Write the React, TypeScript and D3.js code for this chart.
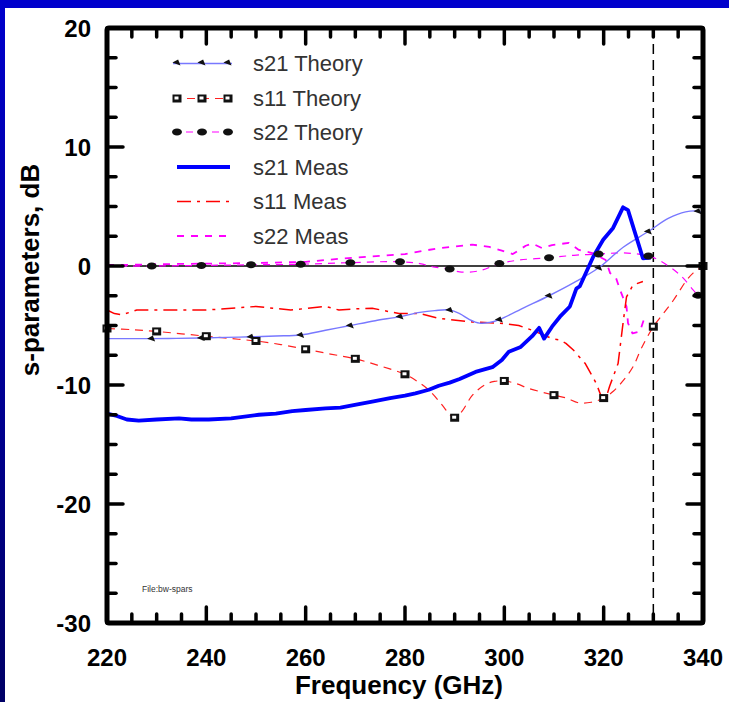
import React, { useEffect, useRef } from 'react';
import * as d3 from 'd3';

// frequency (GHz) / dB pairs
const s21TheoryF = [220, 225, 229, 234, 239, 244, 249, 254, 259, 264, 269, 274, 279, 283, 286, 289, 291, 293, 295, 297, 299, 304, 309, 314, 319, 324, 329, 333, 336.5, 339, 340];
const s21TheoryDb = [-6.1, -6.1, -6.1, -6.08, -6.05, -6.0, -5.95, -5.88, -5.8, -5.4, -5.0, -4.6, -4.25, -3.9, -3.75, -3.7, -4.0, -4.5, -4.8, -4.75, -4.5, -3.5, -2.5, -1.4, -0.15, 1.6, 2.9, 4.0, 4.55, 4.6, 4.4];

const s11TheoryF = [220, 225, 230, 235, 240, 245, 250, 255, 260, 265, 270, 275, 280, 282.5, 285, 287.5, 289, 290, 291.5, 293.5, 296, 298, 300, 302.5, 305, 310, 312.5, 315, 317.5, 320, 322, 324, 326, 327.5, 330, 332, 334, 336.7, 338, 340];
const s11TheoryDb = [-5.25, -5.35, -5.5, -5.7, -5.9, -6.1, -6.3, -6.6, -7.0, -7.4, -7.8, -8.4, -9.1, -9.7, -10.5, -11.7, -12.5, -12.75, -12.2, -10.9, -10.0, -9.7, -9.66, -9.9, -10.3, -10.85, -11.1, -11.5, -11.45, -11.1, -10.5, -9.6, -8.4, -7.0, -5.1, -4.0, -2.9, -1.2, -0.6, 0];

const s22TheoryF = [220, 229, 239, 249, 259, 269, 279, 283, 286, 289, 291, 295, 299, 303, 309, 314, 319, 324, 329, 331.5, 335.5, 338, 339, 340];
const s22TheoryDb = [0.0, 0.0, 0.05, 0.1, 0.15, 0.28, 0.36, 0.2, -0.1, -0.25, -0.5, -0.4, 0.2, 0.5, 0.7, 0.9, 1.0, 1.1, 0.84, 0.4, -0.8, -2.0, -2.45, -2.6];

const s21MeasF = [220, 222, 224, 226.4, 230, 234.5, 237, 240.5, 245, 250.6, 254, 257.3, 260, 264, 267, 270.7, 273.4, 277, 280, 282.1, 284.8, 286.8, 289, 291, 294.2, 297.6, 299.5, 300.9, 303.3, 305.6, 307, 308, 309.6, 311.2, 313.2, 313.9, 314.5, 315.2, 317.9, 319.9, 321.9, 323.9, 324.9, 327.9, 329.5];
const s21MeasDb = [-12.4, -12.6, -12.9, -13.0, -12.9, -12.8, -12.9, -12.9, -12.8, -12.5, -12.4, -12.2, -12.1, -11.96, -11.9, -11.6, -11.4, -11.1, -10.9, -10.7, -10.4, -10.06, -9.8, -9.5, -8.9, -8.5, -7.9, -7.2, -6.8, -5.9, -5.2, -6.1, -5.1, -4.26, -3.4, -2.6, -1.9, -1.7, 0.78, 2.2, 3.2, 4.93, 4.7, 0.65, 0.7];

const s11MeasF = [220, 221.5, 223, 226, 235, 240, 250, 257, 264, 266.7, 270, 273.4, 278.8, 283, 286.8, 293.5, 298.9, 302.9, 305.6, 309.6, 311, 312.4, 313.9, 316.3, 318.5, 320.1, 321.2, 322.9, 323.9, 324.6, 325.9, 327.9];
const s11MeasDb = [-3.7, -4.0, -4.1, -3.7, -3.7, -3.7, -3.4, -3.7, -3.4, -3.7, -3.6, -3.55, -4.0, -4.0, -4.4, -4.7, -4.8, -5.0, -5.4, -6.1, -6.2, -6.5, -7.06, -8.2, -9.86, -11.6, -10.1, -8.2, -4.8, -2.6, -1.6, -1.3];

const s22MeasF = [220, 225, 230, 240, 250, 260, 266.7, 273, 280, 286.8, 293.5, 297, 299.5, 301.7, 304.3, 305.6, 307.6, 309.6, 313, 315, 317.9, 320.4, 321.3, 322.4, 323.3, 324.6, 324.9, 325.8, 327.3, 328.1];
const s22MeasDb = [0.1, 0.1, 0.15, 0.2, 0.25, 0.35, 0.6, 0.8, 1.0, 1.5, 1.8, 1.6, 1.3, 1.0, 1.7, 1.9, 1.5, 1.75, 1.95, 1.35, 1.07, 0.5, -0.6, -0.9, -2.0, -3.4, -4.8, -5.66, -5.5, -4.5];

const legendLabels = ['s21 Theory', 's11 Theory', 's22 Theory', 's21 Meas', 's11 Meas', 's22 Meas'];
const xTickLabels = [220, 240, 260, 280, 300, 320, 340];
const yTickLabels = [20, 10, 0, -10, -20, -30];
const markerLine = 330;

type Pt = { f: number; v: number };
const zip = (f: number[], v: number[]): Pt[] => f.map((d, i) => ({ f: d, v: v[i] }));

const App = () => {
  const svgRef = useRef<SVGSVGElement>(null);

  useEffect(() => {
    const width = 729;
    const height = 702;
    const left = 107, right = 703, top = 28, bottom = 623;

    const svg = d3.select(svgRef.current);
    svg.selectAll('*').remove();

    const x = d3.scaleLinear().domain([220, 340]).range([left, right]);
    const y = d3.scaleLinear().domain([-30, 20]).range([bottom, top]);

    // background + blue frame
    const defs = svg.append('defs');
    const grad = defs.append('linearGradient').attr('id', 'edge').attr('x1', 0).attr('y1', 0).attr('x2', 0).attr('y2', 1);
    grad.append('stop').attr('offset', '0%').attr('stop-color', '#0000cc');
    grad.append('stop').attr('offset', '100%').attr('stop-color', '#000066');
    svg.append('rect').attr('width', width).attr('height', height).attr('fill', '#fff');
    svg.append('rect').attr('width', 5).attr('height', height).attr('fill', 'url(#edge)');
    svg.append('rect').attr('width', width).attr('height', 8).attr('fill', '#0000cc');

    const plot = svg.append('g');

    // zero line and 330 GHz marker
    plot.append('line').attr('x1', left).attr('x2', right).attr('y1', y(0)).attr('y2', y(0))
      .attr('stroke', '#000').attr('stroke-width', 1.5);
    plot.append('line').attr('x1', x(markerLine)).attr('x2', x(markerLine)).attr('y1', top).attr('y2', bottom)
      .attr('stroke', '#000').attr('stroke-width', 1.5).attr('stroke-dasharray', '10,6');

    const smooth = d3.line<Pt>().x(d => x(d.f)).y(d => y(d.v)).curve(d3.curveCatmullRom);
    const straight = d3.line<Pt>().x(d => x(d.f)).y(d => y(d.v));

    const s21T = zip(s21TheoryF, s21TheoryDb);
    const s11T = zip(s11TheoryF, s11TheoryDb);
    const s22T = zip(s22TheoryF, s22TheoryDb);

    const styles = [
      { stroke: '#7878ff', width: 1.4, dash: null },
      { stroke: '#ff2020', width: 1.2, dash: '8,6' },
      { stroke: '#ff00ff', width: 1.2, dash: '7,6' },
      { stroke: '#0000ff', width: 3.8, dash: null },
      { stroke: '#ff0000', width: 1.5, dash: '14,6,3,6' },
      { stroke: '#ff00ff', width: 1.8, dash: '7,7' },
    ];

    const drawPath = (data: Pt[], gen: d3.Line<Pt>, i: number) => {
      plot.append('path').attr('d', gen(data) ?? '')
        .attr('fill', 'none').attr('stroke', styles[i].stroke)
        .attr('stroke-width', styles[i].width)
        .attr('stroke-dasharray', styles[i].dash)
        .attr('stroke-linejoin', 'round');
    };

    drawPath(zip(s22MeasF, s22MeasDb), straight, 5);
    drawPath(s22T, smooth, 2);
    drawPath(zip(s11MeasF, s11MeasDb), straight, 4);
    drawPath(s11T, smooth, 1);
    drawPath(s21T, smooth, 0);
    drawPath(zip(s21MeasF, s21MeasDb), straight, 3);

    // marker glyphs
    const triangle = (g: d3.Selection<SVGGElement, unknown, null, undefined>, cx: number, cy: number) => {
      g.append('path').attr('d', d3.symbol(d3.symbolTriangle, 22)())
        .attr('transform', `translate(${cx},${cy}) rotate(20) scale(1.2,0.8)`).attr('fill', '#111');
    };
    const square = (g: d3.Selection<SVGGElement, unknown, null, undefined>, cx: number, cy: number) => {
      g.append('rect').attr('x', cx - 4.5).attr('y', cy - 4).attr('width', 9).attr('height', 8).attr('fill', '#111');
      g.append('rect').attr('x', cx - 2.5).attr('y', cy - 2).attr('width', 4).attr('height', 3).attr('fill', '#fff');
    };
    const blob = (g: d3.Selection<SVGGElement, unknown, null, undefined>, cx: number, cy: number) => {
      g.append('ellipse').attr('cx', cx).attr('cy', cy).attr('rx', 5).attr('ry', 3.5).attr('fill', '#111');
    };

    const marks = plot.append('g');
    s21T.filter(d => d.f % 10 === 9).forEach(d => triangle(marks, x(d.f), y(d.v)));
    s11T.filter(d => d.f % 10 === 0).forEach(d => square(marks, x(d.f), y(d.v)));
    s22T.filter(d => d.f % 10 === 9).forEach(d => blob(marks, x(d.f), y(d.v)));

    // frame ticks (inward), major + minor
    const axes = svg.append('g').attr('stroke', '#000').attr('stroke-linecap', 'round');
    const xMinor = d3.range(220, 341, 5);
    const yMinor = d3.range(-30, 20.1, 2.5);
    xMinor.forEach(v => {
      const len = v % 20 === 0 ? 16 : 9;
      axes.append('line').attr('x1', x(v)).attr('x2', x(v)).attr('y1', bottom).attr('y2', bottom - len).attr('stroke-width', 3.5);
      axes.append('line').attr('x1', x(v)).attr('x2', x(v)).attr('y1', top).attr('y2', top + len).attr('stroke-width', 3.5);
    });
    yMinor.forEach(v => {
      const len = v % 10 === 0 ? 16 : 9;
      axes.append('line').attr('y1', y(v)).attr('y2', y(v)).attr('x1', left).attr('x2', left + len).attr('stroke-width', 3.5);
      axes.append('line').attr('y1', y(v)).attr('y2', y(v)).attr('x1', right).attr('x2', right - len).attr('stroke-width', 3.5);
    });
    svg.append('rect').attr('x', left).attr('y', top).attr('width', right - left).attr('height', bottom - top)
      .attr('fill', 'none').attr('stroke', '#000').attr('stroke-width', 5).attr('rx', 2);

    // tick labels
    const font = 'Arial, "Liberation Sans", sans-serif';
    svg.append('g').selectAll('text').data(xTickLabels).join('text')
      .attr('x', d => x(d)).attr('y', 666).attr('text-anchor', 'middle')
      .attr('font-family', font).attr('font-weight', 'bold').attr('font-size', 24).attr('fill', '#000')
      .text(d => d);
    svg.append('g').selectAll('text').data(yTickLabels).join('text')
      .attr('x', 91).attr('y', d => y(d) + 8.5).attr('text-anchor', 'end')
      .attr('font-family', font).attr('font-weight', 'bold').attr('font-size', 24).attr('fill', '#000')
      .text(d => d);

    svg.append('text').attr('x', 399).attr('y', 694).attr('text-anchor', 'middle')
      .attr('font-family', font).attr('font-weight', 'bold').attr('font-size', 26).attr('fill', '#000')
      .text('Frequency (GHz)');
    svg.append('text').attr('transform', `translate(39,270) rotate(-90)`).attr('text-anchor', 'middle')
      .attr('font-family', font).attr('font-weight', 'bold').attr('font-size', 26).attr('fill', '#000')
      .text('s-parameters, dB');

    svg.append('text').attr('x', 142).attr('y', 592)
      .attr('font-family', font).attr('font-size', 8.5).attr('fill', '#333').text('File:bw-spars');

    // legend
    const legend = svg.append('g');
    const rowY = [63.5, 98.5, 132, 167, 201.5, 236];
    legendLabels.forEach((label, i) => {
      const ly = rowY[i];
      const x0 = i < 3 ? 173 : 177;
      const x1 = i < 3 ? 232 : 230;
      legend.append('line').attr('x1', x0).attr('x2', x1).attr('y1', ly).attr('y2', ly)
        .attr('stroke', styles[i].stroke).attr('stroke-width', styles[i].width)
        .attr('stroke-dasharray', styles[i].dash);
      [177, 202, 228].forEach(mx => {
        if (i === 0) triangle(legend, mx, ly - 1);
        if (i === 1) square(legend, mx, ly);
        if (i === 2) blob(legend, mx, ly);
      });
      legend.append('text').attr('x', 253).attr('y', ly + 7.5)
        .attr('font-family', font).attr('font-size', 22).attr('fill', '#333').text(label);
    });
  }, []);

  return (
    <svg ref={svgRef} width={729} height={702}
      style={{ position: 'absolute', left: 0, top: 0, display: 'block' }} />
  );
};

export default App;
